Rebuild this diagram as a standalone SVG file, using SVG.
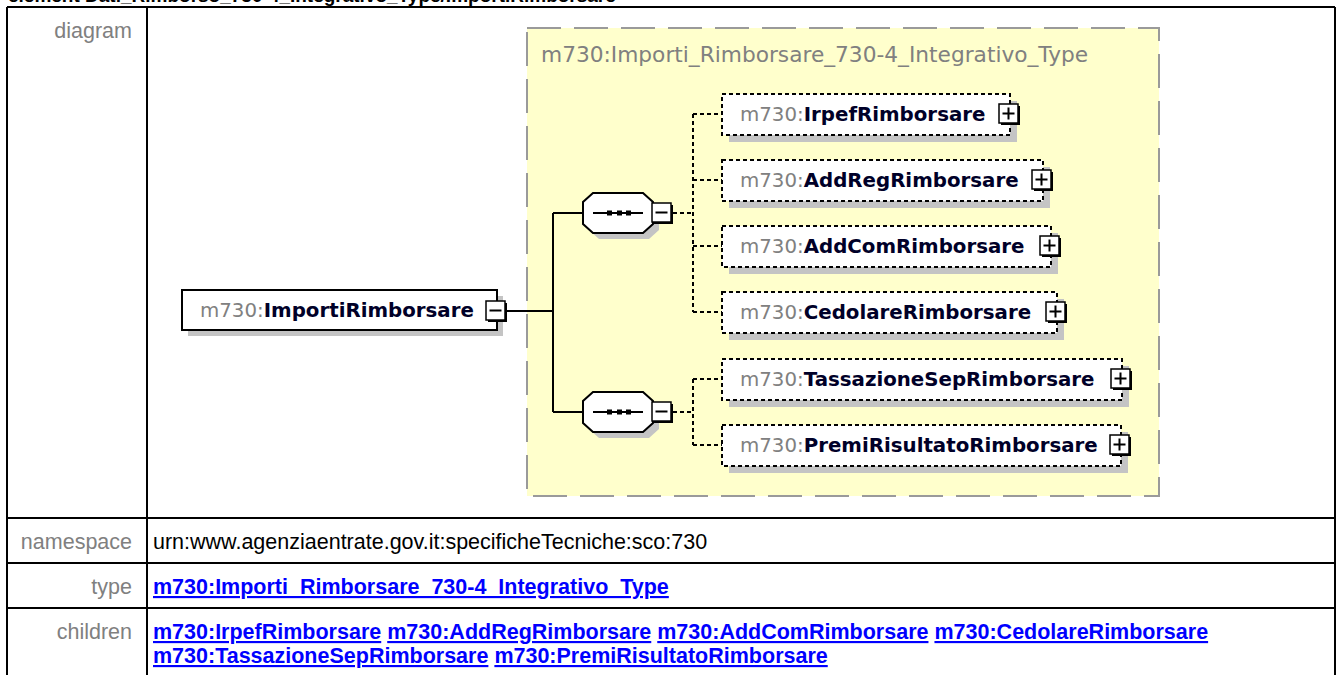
<svg xmlns="http://www.w3.org/2000/svg" width="1336" height="675" viewBox="0 0 1336 675">
<style>
.ttl{font-family:"Liberation Sans",Arial,sans-serif;font-size:19px;font-weight:bold;fill:#000}
.lbl{font-family:"Liberation Sans",Arial,sans-serif;font-size:21.5px;fill:#808080}
.val{font-family:"Liberation Sans",Arial,sans-serif;font-size:21.5px;fill:#000}
.lnk{font-family:"Liberation Sans",Arial,sans-serif;font-size:21.5px;font-weight:bold;fill:#0000FF}
.u{text-decoration:underline}
.tbl{stroke:#000;stroke-width:2;fill:none}
.ctype{fill:#FFFFCC;stroke:#9a9a9a;stroke-width:2;stroke-dasharray:34 13}
.ctitle{font-family:"DejaVu Sans",sans-serif;font-size:21.7px;fill:#808080}
.nt{font-family:"DejaVu Sans",sans-serif;font-size:19.8px}
.pfx{fill:#808080}
.nm{font-weight:bold;fill:#000028}
.box{fill:#fff;stroke:#000;stroke-width:2}
.opt{fill:#fff;stroke:#000;stroke-width:2;stroke-dasharray:4 3}
.shd{fill:#c4c4c4}
.btn{fill:#fff;stroke:#000;stroke-width:1.5}
.bsh{fill:#000}
.sg{stroke:#000;stroke-width:2;fill:none}
.conn{stroke:#000;stroke-width:2;fill:none}
.dconn{stroke:#000;stroke-width:2;fill:none;stroke-dasharray:4 3}
</style>
<defs>
<polygon id="oct" points="593,-20 643,-20 653,-11 653,11 643,20 593,20 583,11 583,-11"/>
<g id="plus"><rect class="bsh" x="-9" y="-9" width="19" height="19"/><rect class="btn" x="-11" y="-11" width="19" height="19"/><path class="sg" d="M-7.5,-1.5H4.5M-1.5,-7.5V4.5"/></g>
<g id="minus"><rect class="bsh" x="-9" y="-9" width="19" height="19"/><rect class="btn" x="-11" y="-11" width="19" height="19"/><path class="sg" d="M-7.5,-1.5H4.5"/></g>
</defs>

<text class="ttl" x="8" y="2">element Dati_Rimborso_730-4_Integrativo_Type/ImportiRimborsare</text>

<g id="table">
<path class="tbl" d="M7,7H1335M7,518H1335M7,563H1335M7,608H1335M7,7V675M147,7V675M1335,7V675"/>
<text class="lbl" x="132" y="38" text-anchor="end">diagram</text>
<text class="lbl" x="132" y="549" text-anchor="end">namespace</text>
<text class="val" x="153" y="549">urn:www.agenziaentrate.gov.it:specificheTecniche:sco:730</text>
<text class="lbl" x="132" y="594" text-anchor="end">type</text>
<text class="lnk" x="153" y="594"><tspan class="u">m730:Importi_Rimborsare_730-4_Integrativo_Type</tspan></text>
<text class="lbl" x="132" y="639" text-anchor="end">children</text>
<text class="lnk" x="153" y="639"><tspan class="u">m730:IrpefRimborsare</tspan> <tspan class="u">m730:AddRegRimborsare</tspan> <tspan class="u">m730:AddComRimborsare</tspan> <tspan class="u">m730:CedolareRimborsare</tspan></text>
<text class="lnk" x="153" y="663"><tspan class="u">m730:TassazioneSepRimborsare</tspan> <tspan class="u">m730:PremiRisultatoRimborsare</tspan></text>
</g>

<g id="complexType">
<rect class="ctype" x="527" y="28" width="632" height="468"/>
<text class="ctitle" x="541" y="62">m730:Importi_Rimborsare_730-4_Integrativo_Type</text>
</g>

<g id="connectors">
<path class="conn" d="M507,311H553M553,213V412M553,213H583M553,412H583"/>
<path class="dconn" d="M673,213H693M693,114V312M693,114H722M693,180H722M693,246H722M693,312H722"/>
<path class="dconn" d="M673,412H693M693,379V445M693,379H722M693,445H722"/>
</g>

<g id="ImportiRimborsare">
<rect class="shd" x="188" y="296" width="315" height="40"/>
<rect class="box" x="182" y="290" width="315" height="40"/>
<text class="nt" x="200" y="317"><tspan class="pfx">m730:</tspan><tspan class="nm">ImportiRimborsare</tspan></text>
<use href="#minus" x="497" y="312"/>
</g>

<g id="sequence1">
<use href="#oct" class="shd" x="6" y="219"/>
<use href="#oct" class="box" x="0" y="213"/>
<path class="sg" d="M593,213H643"/>
<rect x="607" y="210.5" width="5" height="5"/><rect x="617" y="210.5" width="5" height="5"/><rect x="626" y="210.5" width="5" height="5"/>
<use href="#minus" x="663" y="214"/>
</g>

<g id="sequence2">
<use href="#oct" class="shd" x="6" y="418"/>
<use href="#oct" class="box" x="0" y="412"/>
<path class="sg" d="M593,412H643"/>
<rect x="607" y="409.5" width="5" height="5"/><rect x="617" y="409.5" width="5" height="5"/><rect x="626" y="409.5" width="5" height="5"/>
<use href="#minus" x="663" y="413"/>
</g>

<g id="IrpefRimborsare">
<rect class="shd" x="729" y="101" width="288" height="41"/>
<rect class="opt" x="722" y="94" width="288" height="41"/>
<text class="nt" x="740" y="121"><tspan class="pfx">m730:</tspan><tspan class="nm">IrpefRimborsare</tspan></text>
<use href="#plus" x="1010" y="115"/>
</g>

<g id="AddRegRimborsare">
<rect class="shd" x="729" y="167" width="321" height="41"/>
<rect class="opt" x="722" y="160" width="321" height="41"/>
<text class="nt" x="740" y="187"><tspan class="pfx">m730:</tspan><tspan class="nm">AddRegRimborsare</tspan></text>
<use href="#plus" x="1043" y="181"/>
</g>

<g id="AddComRimborsare">
<rect class="shd" x="729" y="233" width="329" height="41"/>
<rect class="opt" x="722" y="226" width="329" height="41"/>
<text class="nt" x="740" y="253"><tspan class="pfx">m730:</tspan><tspan class="nm">AddComRimborsare</tspan></text>
<use href="#plus" x="1051" y="247"/>
</g>

<g id="CedolareRimborsare">
<rect class="shd" x="729" y="299" width="335" height="41"/>
<rect class="opt" x="722" y="292" width="335" height="41"/>
<text class="nt" x="740" y="319"><tspan class="pfx">m730:</tspan><tspan class="nm">CedolareRimborsare</tspan></text>
<use href="#plus" x="1057" y="313"/>
</g>

<g id="TassazioneSepRimborsare">
<rect class="shd" x="729" y="366" width="400" height="41"/>
<rect class="opt" x="722" y="359" width="400" height="41"/>
<text class="nt" x="740" y="386"><tspan class="pfx">m730:</tspan><tspan class="nm">TassazioneSepRimborsare</tspan></text>
<use href="#plus" x="1122" y="380"/>
</g>

<g id="PremiRisultatoRimborsare">
<rect class="shd" x="729" y="432" width="399" height="41"/>
<rect class="opt" x="722" y="425" width="399" height="41"/>
<text class="nt" x="740" y="452"><tspan class="pfx">m730:</tspan><tspan class="nm">PremiRisultatoRimborsare</tspan></text>
<use href="#plus" x="1121" y="446"/>
</g>
</svg>
